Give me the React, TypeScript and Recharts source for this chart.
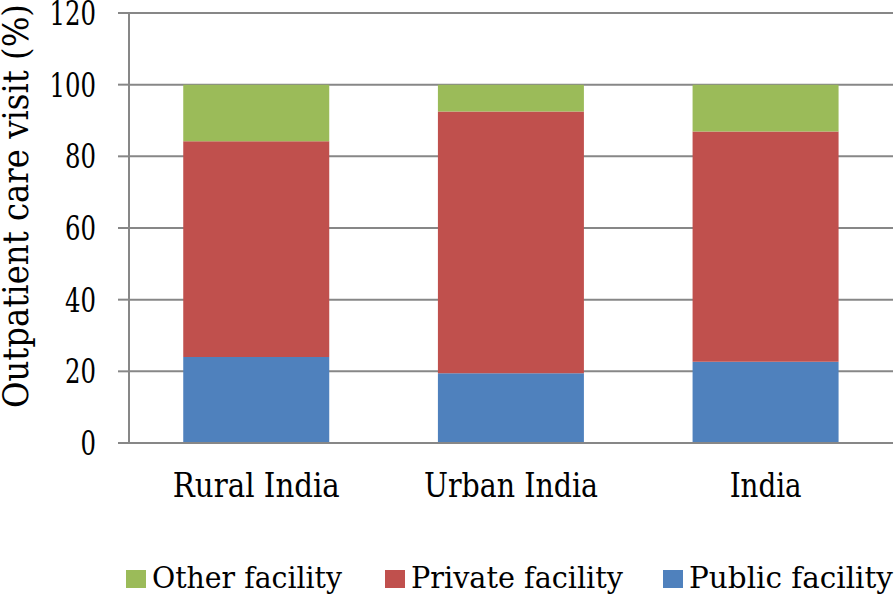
import React from "react";
import { BarChart, Bar, XAxis, YAxis, CartesianGrid, Legend, Label } from "recharts";

const categories = ["Rural India", "Urban India", "India"];
const publicFacility = [24.0, 19.5, 22.7];
const privateFacility = [60.2, 73.0, 64.2];
const otherFacility = [15.8, 7.5, 13.1];
const yTicks = [0, 20, 40, 60, 80, 100, 120];

const data = categories.map((name, i) => ({
  name,
  Public: publicFacility[i],
  Private: privateFacility[i],
  Other: otherFacility[i],
}));

const FONT = "DejaVu Serif";
const GREY = "#878787";

// rendered text widths (layout only)
const TEXT_WIDTH: Record<string, number> = {
  "Rural India": 167,
  "Urban India": 174,
  India: 72,
  "Other facility": 190,
  "Private facility": 212,
  "Public facility": 204,
};

const legendItems = [
  { label: "Other facility", color: "#9BBB59", x: 126 },
  { label: "Private facility", color: "#C0504D", x: 385 },
  { label: "Public facility", color: "#4F81BD", x: 663 },
];

const LegendContent = () => (
  <svg width={895} height={50} style={{ display: "block" }}>
    {legendItems.map((it) => (
      <g key={it.label}>
        <rect x={it.x} y={21} width={20} height={18} fill={it.color} />
        <text
          x={it.x + 26}
          y={39}
          fontFamily={FONT}
          fontSize={29}
          fill="#000"
          textLength={TEXT_WIDTH[it.label]}
          lengthAdjust="spacingAndGlyphs"
        >
          {it.label}
        </text>
      </g>
    ))}
  </svg>
);

const YTick = (props: any) => {
  const { x, y, payload } = props;
  const s = String(payload.value);
  return (
    <text
      x={x}
      y={y + 12}
      textAnchor="end"
      fontFamily={FONT}
      fontSize={33}
      fill="#000"
      textLength={15.5 * s.length}
      lengthAdjust="spacingAndGlyphs"
    >
      {s}
    </text>
  );
};

const XTick = (props: any) => {
  const { x, y, payload } = props;
  return (
    <text
      x={x}
      y={y + 38}
      textAnchor="middle"
      fontFamily={FONT}
      fontSize={33}
      fill="#000"
      textLength={TEXT_WIDTH[payload.value]}
      lengthAdjust="spacingAndGlyphs"
    >
      {payload.value}
    </text>
  );
};

export default function App() {
  return (
    <div style={{ position: "absolute", left: 0, top: 0, background: "#fff" }}>
      <BarChart
        width={895}
        height={599}
        data={data}
        margin={{ top: 13, right: 2, bottom: 0, left: 0 }}
        barCategoryGap="21.3%"
      >
        <CartesianGrid vertical={false} stroke={GREY} strokeWidth={2} />
        <XAxis
          dataKey="name"
          height={106}
          axisLine={{ stroke: GREY, strokeWidth: 2 }}
          tickLine={false}
          tick={<XTick />}
          tickMargin={10}
        />
        <YAxis
          width={129}
          domain={[0, 120]}
          ticks={yTicks}
          interval={0}
          axisLine={{ stroke: GREY, strokeWidth: 2 }}
          tickLine={{ stroke: GREY, strokeWidth: 2 }}
          tickSize={11}
          tickMargin={22}
          tick={<YTick />}
        >
          <Label
            content={() => (
              <text
                transform="translate(28,206) rotate(-90)"
                textAnchor="middle"
                fontFamily={FONT}
                fontSize={35}
                fill="#000"
                textLength={404}
                lengthAdjust="spacingAndGlyphs"
              >
                Outpatient care visit (%)
              </text>
            )}
          />
        </YAxis>
        <Legend verticalAlign="bottom" align="left" content={<LegendContent />} wrapperStyle={{ left: 0, bottom: 0, width: 895 }} />
        <Bar dataKey="Public" stackId="a" fill="#4F81BD" isAnimationActive={false} />
        <Bar dataKey="Private" stackId="a" fill="#C0504D" isAnimationActive={false} />
        <Bar dataKey="Other" stackId="a" fill="#9BBB59" isAnimationActive={false} />
      </BarChart>
    </div>
  );
}
